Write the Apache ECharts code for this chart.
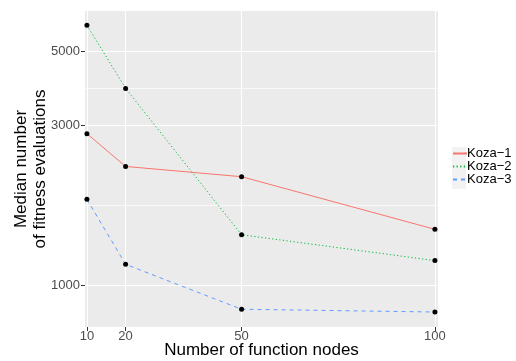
<!DOCTYPE html>
<html><head><meta charset="utf-8">
<script src="https://cdn.jsdelivr.net/npm/echarts@6/dist/echarts.min.js"></script>
<style>html,body{margin:0;padding:0;background:#fff}#c{width:516px;height:361px}</style>
</head><body><div id="c"></div>
<script>
const nodes = [10, 20, 50, 100];
const seriesNames = ['Koza\u22121', 'Koza\u22122', 'Koza\u22123'];
const koza1 = [2840, 2265, 2110, 1468];
const koza2 = [5995, 3880, 1414, 1183];
const koza3 = [1805, 1153, 846, 830];
const xTicks = [10, 20, 50, 100];
const yTicks = [1000, 3000, 5000];
const yMinor = [1732, 3873];

const colors = ['#F8766D', '#00BA38', '#619CFF'];
const dashes = ['solid', [1.2, 2.4], [4, 4]];
const values = [koza1, koza2, koza3];
const font = 'Liberation Sans, Arial, sans-serif';

const lineSeries = values.map((vals, i) => ({
  name: seriesNames[i], type: 'line',
  data: nodes.map((x, j) => [x, vals[j]]),
  symbol: 'none', showSymbol: false, z: 3,
  lineStyle: { color: colors[i], width: 1, type: dashes[i] },
  itemStyle: { color: colors[i] }
}));
const pointSeries = values.map((vals, i) => ({
  name: 'pts' + i, type: 'scatter',
  data: nodes.map((x, j) => [x, vals[j]]),
  symbol: 'circle', symbolSize: 5, z: 4,
  itemStyle: { color: '#000', opacity: 1 }
}));
const minorGrid = {
  name: 'minor', type: 'line', data: [], z: 1, silent: true,
  markLine: {
    silent: true, symbol: 'none', label: { show: false }, animation: false, z: 1,
    lineStyle: { color: '#fff', width: 0.7, type: 'solid' },
    emphasis: { disabled: true },
    data: yMinor.map(v => ({ yAxis: v }))
  }
};

const chart = echarts.init(document.getElementById('c'), null, { renderer: 'canvas' });
chart.setOption({
  animation: false,
  textStyle: { fontFamily: font },
  grid: { left: 85, right: 78, top: 11, bottom: 34, containLabel: false, outerBoundsMode: 'none',
          show: true, backgroundColor: '#EBEBEB', borderWidth: 0 },
  xAxis: {
    type: 'value', min: 9.5, max: 100.8,
    name: 'Number of function nodes', nameLocation: 'middle', nameGap: 15, nameMoveOverlap: false,
    nameTextStyle: { fontSize: 17, color: '#000', fontFamily: font },
    axisLine: { show: false },
    axisTick: { show: true, length: 4, lineStyle: { color: '#333', width: 1 }, customValues: xTicks },
    axisLabel: { customValues: xTicks, fontSize: 13, color: '#4D4D4D', margin: 3, fontFamily: font },
    splitLine: { show: true, lineStyle: { color: '#fff', width: 1.1 } }
  },
  yAxis: {
    type: 'log', logBase: 10, min: 748.5, max: 6616,
    name: 'Median number\nof fitness evaluations', nameLocation: 'middle', nameGap: 35, nameRotate: 90,
    nameMoveOverlap: false,
    nameTextStyle: { fontSize: 17, color: '#000', lineHeight: 19, fontFamily: font },
    axisLine: { show: false },
    axisTick: { show: true, length: 4, lineStyle: { color: '#333', width: 1 }, customValues: yTicks },
    axisLabel: { customValues: yTicks, fontSize: 13, color: '#4D4D4D', margin: 5, fontFamily: font,
                 formatter: v => String(Math.round(v)) },
    splitLine: { show: true, lineStyle: { color: '#fff', width: 1.1 } }
  },
  legend: {
    data: seriesNames, orient: 'vertical', left: 452, top: 147,
    itemWidth: 14, itemHeight: 14, itemGap: 0, padding: 0,
    itemStyle: { opacity: 0 },
    textStyle: { fontSize: 13, color: '#000', fontFamily: font, padding: [0, 0, 0, -5] }
  },
  graphic: seriesNames.map((n, i) => ({
    type: 'rect', left: 452, top: 147 + i * 14, z: -1, silent: true,
    shape: { width: 14, height: 14 }, style: { fill: '#F2F2F2' }
  })),
  series: [minorGrid, ...lineSeries, ...pointSeries]
});
</script></body></html>
